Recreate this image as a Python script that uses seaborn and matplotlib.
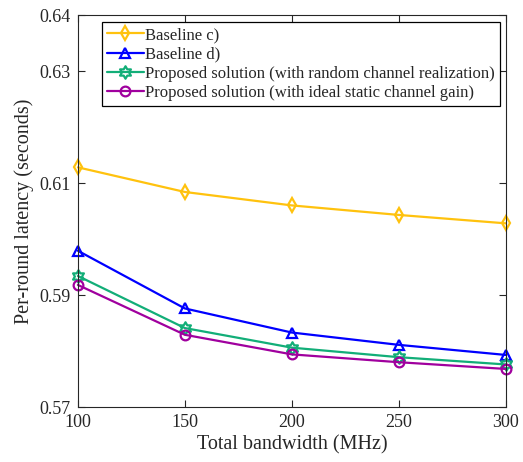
import numpy as np
import pandas as pd
import matplotlib
matplotlib.use("Agg")
import matplotlib.pyplot as plt
import seaborn as sns
from matplotlib.path import Path

# data
bandwidth = [100, 150, 200, 250, 300]
baseline_c = [0.6128, 0.6084, 0.6060, 0.6043, 0.6028]
baseline_d = [0.5979, 0.5876, 0.5833, 0.5811, 0.5793]
proposed_random = [0.5934, 0.5841, 0.5806, 0.5789, 0.5776]
proposed_ideal = [0.5918, 0.5829, 0.5794, 0.5780, 0.5768]

labels = ["Baseline c)", "Baseline d)",
          "Proposed solution (with random channel realization)",
          "Proposed solution (with ideal static channel gain)"]
series = [baseline_c, baseline_d, proposed_random, proposed_ideal]
colors = ["#FFC20E", "#0000FF", "#12AE78", "#A0009E"]

# six-pointed star (MATLAB 'hexagram')
ang_out = np.deg2rad(90 + 60 * np.arange(6))
ang_in = ang_out + np.deg2rad(30)
r_in = 1 / np.sqrt(3)
verts = []
for a, b in zip(ang_out, ang_in):
    verts.append((np.cos(a), np.sin(a)))
    verts.append((r_in * np.cos(b), r_in * np.sin(b)))
verts.append(verts[0])
codes = [Path.MOVETO] + [Path.LINETO] * 11 + [Path.CLOSEPOLY]
hexagram = Path(verts, codes)

markers = ["d", "^", hexagram, "o"]
msizes = [7.5, 7, 9, 7]

sns.set_style("white")
plt.rcParams["font.family"] = ["Liberation Serif", "DejaVu Serif"]
plt.rcParams["mathtext.fontset"] = "stix"

fig = plt.figure(figsize=(5.23, 4.62), dpi=100)
ax = fig.add_axes([0.149, 0.119, 0.818, 0.8485])

for lab, vals, c, m, ms in zip(labels, series, colors, markers, msizes):
    df = pd.DataFrame({"bw": bandwidth, "lat": vals})
    sns.lineplot(data=df, x="bw", y="lat", ax=ax, color=c, linewidth=1.6,
                 marker=m, markersize=ms, markerfacecolor="none",
                 markeredgecolor=c, markeredgewidth=1.6, label=lab,
                 clip_on=False)

ax.set_xlim(100, 300)
ax.set_ylim(0.57, 0.64)
ax.set_xticks([100, 150, 200, 250, 300])
ax.set_yticks([0.57, 0.59, 0.61, 0.63, 0.64])
ax.set_yticklabels(["0.57", "0.59", "0.61", "0.63", "0.64"])
ax.set_xlabel("Total bandwidth (MHz)", fontsize=14.5, labelpad=3)
ax.set_ylabel("Per-round latency (seconds)", fontsize=14.5, labelpad=4)
ax.tick_params(direction="in", length=5, width=0.8, labelsize=13,
               top=True, right=True, bottom=True, left=True,
               color="#262626", pad=5)
for s in ax.spines.values():
    s.set_color("#262626")
    s.set_linewidth(0.8)

leg = ax.legend(loc="upper left", bbox_to_anchor=(0.056, 0.982), fontsize=12,
                frameon=True, fancybox=False, framealpha=1, edgecolor="black",
                handlelength=2.2, handletextpad=0.1, labelspacing=0.2,
                borderpad=0.3, borderaxespad=0)
leg.get_frame().set_linewidth(0.9)

fig.savefig("out.png", dpi=100)
